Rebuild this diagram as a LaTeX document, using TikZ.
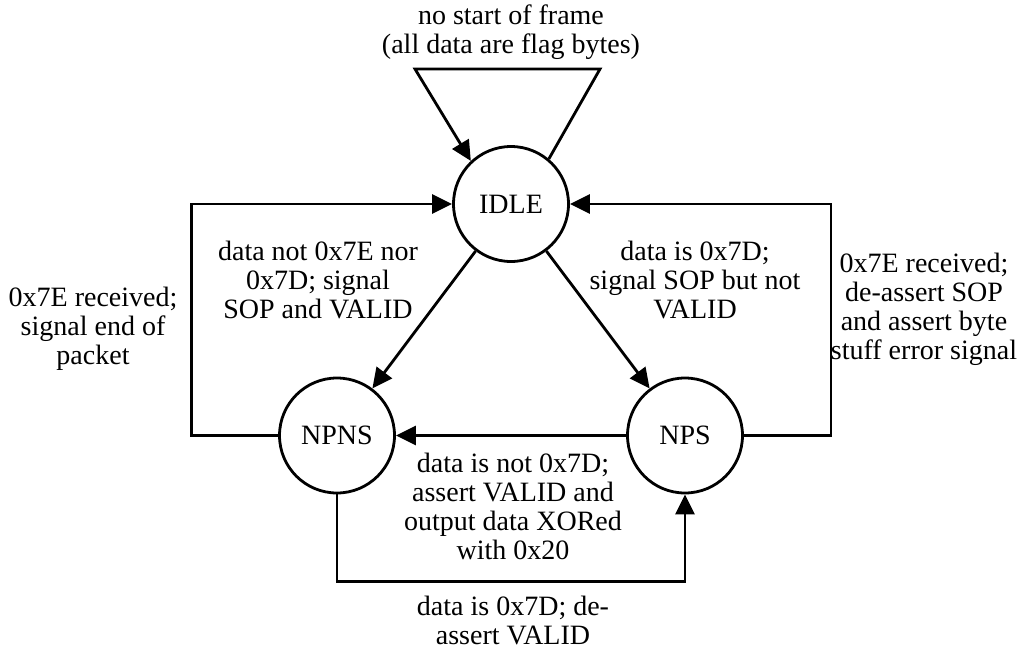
\documentclass[tikz,border=0pt]{standalone}
\usepackage{fontspec}
\setmainfont{Liberation Serif}
\usetikzlibrary{arrows.meta}
\begin{document}
\begin{tikzpicture}[x=1pt,y=-1pt,
  st/.style={circle,draw,line width=2.8pt,minimum size=115pt,inner sep=0pt,font=\fontsize{28}{29}\selectfont},
  lbl/.style={align=center,inner sep=0pt,font=\fontsize{28}{29}\selectfont},
  arr/.style={line width=2.8pt,-{Triangle[length=20pt,width=19pt]}}]
\useasboundingbox (0,0) rectangle (1026,649);
\node[st] (idle) at (511,204) {IDLE};
\node[st] (npns) at (337,435.5) {NPNS};
\node[st] (nps) at (685,435.5) {NPS};
\coordinate (sr) at (600,69);
\coordinate (sl) at (415,69);
\draw[arr] (idle.50) -- (sr) -- (sl) -- (idle.133);
\draw[arr] (idle) -- (npns);
\draw[arr] (idle) -- (nps);
\draw[arr] (npns.west) -- ++(-87,0) |- (idle.west);
\draw[arr] (nps.east) -- ++(87,0) |- (idle.east);
\draw[arr] (nps.west) -- (npns.east);
\draw[arr] (npns.south) -- ++(0,87) -| (nps.south);
\node[lbl] (t1) at (511,32) {no start of frame\\(all data are flag bytes)};
\node[lbl] (t2) at (318,280) {data not 0x7E nor\\0x7D; signal\\SOP and VALID};
\node[lbl] (t3) at (93,329) {0x7E received;\\signal end of\\packet};
\node[lbl] (t4) at (695,280) {data is 0x7D;\\signal SOP but not\\VALID};
\node[lbl] (t5) at (924,309) {0x7E received;\\de-assert SOP\\and assert byte\\stuff error signal};
\node[lbl] (t6) at (513,506) {data is not 0x7D;\\assert VALID and\\output data XORed\\with 0x20};
\node[lbl] (t7) at (513,620) {data is 0x7D; de-\\assert VALID};
\end{tikzpicture}
\end{document}
